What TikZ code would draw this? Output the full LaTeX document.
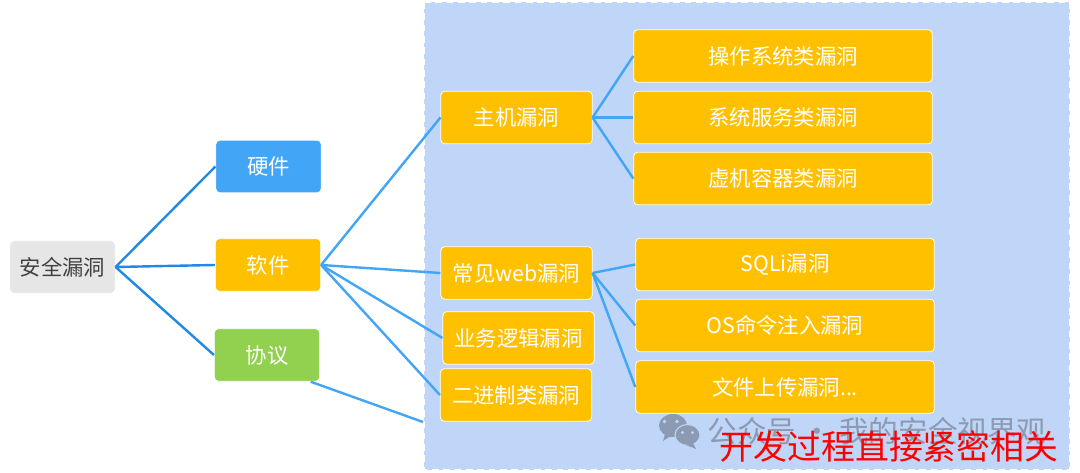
\documentclass[tikz,border=0pt]{standalone}
\usepackage{fontspec}
\setmainfont{Noto Sans CJK SC}
\definecolor{PanelBlue}{RGB}{192,214,248}
\definecolor{TrunkBlue}{RGB}{33,136,229}
\definecolor{TwigBlue}{RGB}{66,165,245}
\definecolor{BoxAmber}{RGB}{255,192,0}
\definecolor{BoxGreen}{RGB}{146,208,80}
\definecolor{BoxGray}{RGB}{230,230,230}
\definecolor{MarkGray}{RGB}{140,155,178}
\tikzset{
  box/.style={draw=white,line width=0.6pt,rounded corners=3pt,text=white,inner sep=0pt,
    font=\fontsize{16}{19}\selectfont,minimum height=39.5pt},
  topv/.style={box,minimum width=79pt},
  midv/.style={box,fill=BoxAmber,minimum width=113.5pt},
  leafv/.style={box,fill=BoxAmber,minimum width=224pt},
  trunk/.style={draw=TrunkBlue,line width=1.8pt},
  twig/.style={draw=TwigBlue,line width=1.8pt},
  panel/.style={draw=white,fill=PanelBlue,line width=1.3pt,dash pattern=on 5pt off 3.5pt},
}

\begin{document}
\begin{tikzpicture}[x=0.75pt,y=-0.75pt]
\useasboundingbox (0,0) rectangle (1080,473);
\fill[white] (0,0) rectangle (1080,473);
\draw[panel] (424,2) rectangle (1070,470);
\node[topv,fill=BoxGray,text=black!75] (root) at (62.5,267) {安全漏洞};
\node[topv,fill=TwigBlue] (hard) at (268.5,166.5) {硬件};
\node[topv,fill=BoxAmber] (soft) at (268,265) {软件};
\node[topv,fill=BoxGreen] (proto) at (267,355) {协议};
\node[midv] (host) at (516.5,117.5) {主机漏洞};
\node[midv] (web) at (516.5,273) {常见web漏洞};
\node[midv] (logic) at (518.5,338) {业务逻辑漏洞};
\node[midv] (bin) at (516,395) {二进制类漏洞};
\node[leafv] (os) at (783,56) {操作系统类漏洞};
\node[leafv] (svc) at (783,117.5) {系统服务类漏洞};
\node[leafv] (vm) at (783,178.5) {虚机容器类漏洞};
\node[leafv] (sqli) at (785,264.5) {SQLi漏洞};
\node[leafv] (cmd) at (785,325.5) {OS命令注入漏洞};
\node[leafv] (upload) at (785,387) {文件上传漏洞...};
\coordinate (panelin) at (423,422);
\draw[trunk] (root.east) -- (hard.west);
\draw[trunk] (root.east) -- (soft.west);
\draw[trunk] (root.east) -- (proto.west);
\draw[twig] (soft.east) -- (host.west);
\draw[twig] (soft.east) -- (web.west);
\draw[twig] (soft.east) -- (logic.west);
\draw[twig] (soft.east) -- (bin.west);
\draw[twig] ([xshift=-7pt]proto.south east) -- (panelin);
\draw[twig] (host.east) -- (os.west);
\draw[twig] (host.east) -- (svc.west);
\draw[twig] (host.east) -- (vm.west);
\draw[twig] (web.east) -- (sqli.west);
\draw[twig] (web.east) -- (cmd.west);
\draw[twig] (web.east) -- (upload.west);
\fill[MarkGray] (673,425.5) ellipse (14 and 11.5);
\fill[MarkGray] (665,434) -- (663,441) -- (672,435) -- cycle;
\fill[PanelBlue] (664.5,421.5) circle (1.9);
\fill[PanelBlue] (677,421.5) circle (1.9);
\fill[MarkGray,draw=PanelBlue,line width=0.8pt] (687.5,435) ellipse (12.5 and 10.5);
\fill[MarkGray] (693,443) -- (696,449) -- (686,445) -- cycle;
\fill[PanelBlue] (682.5,432.5) circle (1.6);
\fill[PanelBlue] (692.5,432.5) circle (1.6);
\node[text=MarkGray,font=\fontsize{22.2}{26}\selectfont,inner sep=0pt] (mark) at (877,431) {公众号 · 我的安全视界观};
\node[text=red,font=\fontsize{25.4}{30}\selectfont,inner sep=0pt] (note) at (889,447) {开发过程直接紧密相关};
\end{tikzpicture}
\end{document}
